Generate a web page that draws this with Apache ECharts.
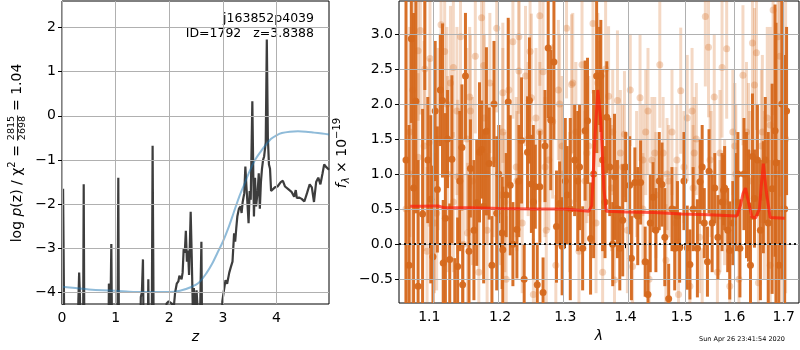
<!DOCTYPE html>
<html><head><meta charset="utf-8">
<script src="https://cdn.jsdelivr.net/npm/echarts@6/dist/echarts.min.js"></script>
<style>html,body{margin:0;padding:0;background:#fff}#c{width:800px;height:350px}</style>
</head><body><div id="c"></div>
<script>
// ---------- left panel: log p(z) ----------
const zBlack = [0.005,0.02,0.035,0.05,0.29,0.305,0.32,0.335,0.35,0.39,0.405,0.42,0.86,0.875,0.89,0.905,0.92,0.94,1.03,1.05,1.065,1.45,1.47,1.49,1.51,1.53,1.59,1.61,1.63,1.67,1.69,1.715,1.93,1.95,1.99,2.02,2.05,2.08,2.11,2.14,2.17,2.19,2.21,2.23,2.25,2.27,2.29,2.31,2.33,2.35,2.37,2.40,2.42,2.44,2.46,2.48,2.51,2.53,2.56,2.58,2.60,2.62,2.98,2.99,3.02,3.05,3.08,3.12,3.15,3.18,3.21,3.23,3.25,3.27,3.30,3.33,3.35,3.37,3.40,3.42,3.44,3.46,3.48,3.50,3.52,3.55,3.57,3.58,3.60,3.62,3.65,3.67,3.69,3.71,3.73,3.75,3.77,3.80,3.82,3.84,3.86,3.88,3.90,3.93,3.97,4.02,4.08,4.12,4.16,4.22,4.28,4.33,4.36,4.38,4.42,4.47,4.52,4.57,4.62,4.66,4.70,4.74,4.78,4.82,4.86,4.89,4.92,4.95,4.98];
const logpBlack = [-6,-1.65,-1.68,-6,-6,-4.2,-3.55,-4.1,-6,-6,-1.55,-6,-6,-3.8,-3.85,-4.3,-2.9,-6,-6,-1.40,-6,-6,-4.1,-4.0,-3.25,-6,-6,-3.7,-6,-6,-0.68,-6,-6,-4.25,-4.2,-4.22,-4.25,-4.4,-4.0,-3.80,-3.75,-3.62,-3.58,-3.70,-3.55,-3.00,-3.10,-2.60,-3.30,-3.05,-3.60,-2.17,-3.20,-4.40,-3.90,-4.50,-3.95,-4.40,-6,-4.2,-2.85,-6,-6,-4.2,-3.95,-3.72,-3.80,-3.55,-3.42,-3.30,-2.66,-2.85,-2.55,-2.28,-2.10,-2.05,-2.20,-1.95,-1.75,-1.15,-1.60,-2.00,-2.43,-1.70,-1.90,0.33,-1.50,-2.28,-1.40,-2.05,-1.70,-1.30,-2.10,-1.50,-1.20,-1.00,-0.92,-0.60,1.73,-0.50,-1.10,-1.20,-1.70,-1.72,-1.62,-1.60,-1.50,-1.47,-1.60,-1.66,-1.72,-1.83,-1.68,-1.86,-1.85,-1.88,-1.94,-1.75,-1.55,-1.62,-1.95,-1.50,-1.40,-1.55,-1.30,-1.10,-1.15,-1.18,-1.22];
const zBlue = [0,0.25,0.5,0.75,1.0,1.25,1.5,1.75,2.0,2.2,2.4,2.55,2.7,2.8,2.9,3.0,3.1,3.2,3.3,3.4,3.5,3.6,3.7,3.8,3.9,4.0,4.1,4.25,4.4,4.55,4.7,4.85,4.98];
const logpBlue = [-3.87,-3.90,-3.93,-3.95,-3.96,-3.98,-3.99,-3.99,-3.99,-3.96,-3.88,-3.78,-3.55,-3.35,-3.10,-2.85,-2.55,-2.20,-1.85,-1.55,-1.25,-1.00,-0.82,-0.66,-0.52,-0.44,-0.39,-0.36,-0.35,-0.36,-0.38,-0.40,-0.42];
const zTicks = [0,1,2,3,4];
const logpTicks = [-4,-3,-2,-1,0,1,2];

// ---------- right panel: spectrum ----------
const lamTicks = [1.1,1.2,1.3,1.4,1.5,1.6,1.7];
const fluxTicks = [-0.5,0,0.5,1,1.5,2,2.5,3];
const darkLam = [1.069,1.073,1.076,1.079,1.082,1.085,1.091,1.094,1.098,1.102,
 1.105,1.108,1.111,1.115,1.118,1.119,1.122,1.125,1.128,1.131,
 1.135,1.139,1.142,1.145,1.146,1.150,1.155,1.157,1.162,1.166,
 1.170,1.173,1.176,1.180,1.184,1.188,1.191,1.195,1.198,1.203,
 1.204,1.209,1.212,1.215,1.219,1.225,1.228,1.232,1.236,1.241,
 1.244,1.247,1.250,1.253,1.256,1.260,1.265,1.268,1.273,1.277,
 1.282,1.286,1.291,1.295,1.300,1.303,1.308,1.315,1.320,1.323,
 1.328,1.332,1.336,1.341,1.346,1.351,1.356,1.358,1.361,1.365,
 1.368,1.373,1.378,1.381,1.386,1.390,1.395,1.400,1.407,1.410,
 1.416,1.421,1.426,1.434,1.439,1.443,1.448,1.453,1.459,1.464,
 1.469,1.476,1.482,1.487,1.492,1.496,1.504,1.510,1.515,1.521,
 1.529,1.534,1.538,1.542,1.548,1.551,1.557,1.562,1.568,1.576,
 1.579,1.581,1.587,1.591,1.597,1.603,1.607,1.611,1.619,1.624,
 1.628,1.632,1.636,1.640,1.646,1.652,1.658,1.662,1.668,1.676,
 1.682,1.684,1.690,1.696,1.702,1.706];
const darkFlux = [1.20,-0.30,2.93,0.80,2.04,-0.60,0.43,3.70,1.20,0.64,
 -0.18,1.90,0.78,2.20,2.05,-0.27,0.37,1.50,-0.22,1.21,
 -1.00,-0.32,0.90,1.38,-0.58,2.40,-0.10,1.08,0.20,0.59,
 1.31,1.35,0.54,1.61,1.15,-0.30,2.00,0.44,1.00,0.16,
 -0.08,0.70,2.03,0.84,0.00,0.21,0.90,1.48,-0.50,1.31,
 2.05,0.86,0.60,0.82,-0.58,0.82,-0.69,1.40,2.80,1.77,
 2.60,0.25,0.58,-0.03,0.90,0.70,0.50,1.20,0.90,1.10,
 -0.06,1.62,1.76,0.08,1.00,2.40,2.40,2.40,1.20,0.60,
 1.81,1.10,0.00,0.96,0.50,-0.06,0.34,1.10,0.84,-0.20,
 0.88,0.40,0.88,-0.25,-0.72,0.30,0.67,0.20,0.90,0.85,
 0.10,-0.78,0.50,-0.06,0.40,-0.05,0.90,-0.05,-0.29,0.50,
 -0.06,0.89,1.10,0.30,-0.25,1.04,0.30,0.80,0.10,0.60,
 0.77,0.80,0.20,-0.09,0.30,0.60,1.00,-0.06,1.00,0.70,
 0.55,-0.30,1.25,0.65,1.20,0.20,0.67,1.20,0.30,0.79,
 1.62,1.16,-0.30,2.00,0.50,1.90];
const darkErr = [2.5,2.0,1.2,2.5,1.6,1.8,1.5,1.5,0.9,1.2,
 1.3,1.0,0.9,0.8,1.1,0.9,1.5,0.7,0.8,1.2,
 0.8,0.7,1.0,0.9,0.6,0.9,1.1,0.7,1.0,0.9,
 1.0,0.7,1.1,1.2,0.8,0.7,0.9,1.1,0.7,0.8,
 0.9,0.6,1.2,1.0,0.6,0.7,0.8,0.9,0.5,0.8,
 0.9,0.7,1.1,0.6,0.6,0.8,0.5,0.8,1.0,1.0,
 1.1,0.8,0.6,0.7,0.9,0.7,1.3,0.8,1.0,0.9,
 0.6,1.0,0.9,0.8,1.2,1.1,0.7,0.8,1.3,0.8,
 0.8,0.7,0.6,0.9,0.7,0.6,0.8,0.5,0.7,0.6,
 0.5,0.7,0.6,0.5,0.5,0.7,0.5,0.6,0.7,0.6,
 0.7,0.5,0.6,0.6,0.5,0.5,0.7,0.6,0.5,0.6,
 0.7,0.6,0.6,0.5,0.5,0.6,0.7,0.5,0.6,0.7,
 0.5,0.6,0.6,0.7,0.6,0.7,0.6,0.7,0.8,0.9,
 0.8,0.7,0.9,0.7,0.8,1.0,0.8,0.9,1.3,1.5,
 1.8,2.0,1.5,2.5,2.2,1.2];
const lightLam = [1.069,1.074,1.078,1.085,1.088,1.093,1.097,1.101,1.107,1.112,
 1.116,1.121,1.125,1.129,1.133,1.138,1.143,1.147,1.152,1.156,
 1.160,1.164,1.169,1.173,1.177,1.181,1.185,1.190,1.195,1.200,
 1.204,1.209,1.213,1.219,1.224,1.228,1.233,1.238,1.242,1.247,
 1.250,1.254,1.260,1.265,1.270,1.274,1.280,1.285,1.289,1.295,
 1.302,1.307,1.312,1.317,1.322,1.327,1.332,1.338,1.345,1.350,
 1.355,1.361,1.366,1.371,1.376,1.381,1.386,1.391,1.398,1.403,
 1.408,1.412,1.419,1.425,1.430,1.435,1.441,1.446,1.453,1.460,
 1.466,1.471,1.476,1.482,1.489,1.494,1.498,1.504,1.510,1.515,
 1.521,1.527,1.533,1.538,1.544,1.550,1.555,1.561,1.567,1.572,
 1.576,1.581,1.585,1.591,1.597,1.603,1.609,1.617,1.624,1.630,
 1.636,1.640,1.644,1.648,1.654,1.660,1.666,1.672,1.678,1.684,
 1.688,1.692,1.698,1.704,
 1.094,1.133,1.176,1.204,1.228,1.245,1.310,1.085,1.100,1.110,
 1.139,1.153,1.181,1.207,1.225,1.268,1.295,1.335,1.378,1.395,
 1.430,1.451,1.473,1.491,1.523,1.553,1.572,1.601,1.628,1.656,
 1.672,1.519,1.439,1.353,1.291,1.260,1.157,1.124,1.075];
const lightFlux = [0.5,1.6,2.2,2.76,3.05,1.4,-0.1,2.65,0.3,1.5,
 3.13,2.75,1.0,2.3,0.6,1.9,2.96,0.0,1.5,2.1,
 0.9,2.68,-0.4,3.23,1.8,0.2,2.3,1.2,3.08,0.7,
 1.6,-0.5,2.2,2.89,1.1,2.96,0.3,2.4,1.5,2.09,
 -0.72,1.8,3.26,2.46,0.2,1.2,1.75,-0.3,2.2,1.0,
 3.08,0.6,2.3,1.6,-0.1,2.56,0.9,1.4,3.15,0.3,
 2.0,-0.4,2.5,2.11,0.8,-0.51,2.05,1.3,1.57,0.2,
 2.2,-0.32,1.0,2.09,0.5,1.6,-0.5,1.2,0.7,2.56,
 1.3,-0.23,0.9,1.6,0.3,-0.72,2.19,1.1,1.80,-0.6,
 0.8,1.5,0.1,-0.86,3.25,2.81,1.0,2.1,-0.4,1.3,
 2.52,0.6,2.79,-0.6,1.6,1.0,-0.5,2.41,1.6,0.9,
 2.87,2.27,2.73,-0.55,1.4,0.7,1.8,-0.3,3.34,1.0,
 2.96,2.68,0.5,1.5,
 2.5,2.52,2.55,2.16,2.47,2.75,2.28,1.24,1.45,0.44,
 0.96,0.16,1.0,0.6,0.9,1.1,1.4,1.3,1.6,1.1,
 1.2,1.3,1.0,1.2,1.3,1.2,0.4,1.4,1.3,1.6,
 1.7,1.9,1.9,2.3,2.0,1.6,1.9,2.0,1.0];
const lightErr = [2.5,1.5,1.4,1.0,1.2,1.5,1.2,1.1,1.0,1.3,
 1.2,1.2,1.4,1.1,1.0,1.2,1.1,1.0,1.3,1.0,
 1.2,1.1,1.0,1.3,1.2,1.1,1.0,1.1,1.2,1.0,
 1.2,0.9,1.0,1.1,1.0,1.1,1.0,1.0,1.1,1.2,
 0.8,1.0,1.0,1.0,1.2,1.0,1.1,1.0,1.0,1.0,
 1.0,1.0,1.0,1.0,0.9,1.0,1.0,1.0,1.0,1.0,
 0.9,0.9,1.0,1.0,0.9,0.9,1.0,0.9,0.9,0.9,
 0.8,0.8,0.9,0.9,0.8,0.9,0.8,0.9,0.9,0.9,
 0.8,0.8,0.8,0.9,0.8,0.8,0.9,0.8,0.9,0.8,
 0.9,0.8,0.8,0.8,1.0,1.0,0.9,0.9,0.8,0.9,
 1.0,0.9,1.0,0.8,0.9,1.0,0.9,1.0,1.0,1.0,
 1.1,1.1,1.1,1.0,1.1,1.2,1.3,1.5,1.5,2.0,
 1.8,2.0,2.5,2.2,
 1.0,1.0,1.0,1.0,1.0,1.0,1.0,1.2,1.2,1.1,
 1.1,1.0,1.0,1.0,1.0,1.0,1.0,1.0,0.9,0.9,
 0.8,0.8,0.8,0.8,0.8,0.8,0.8,0.9,1.0,1.1,
 1.4,0.9,0.9,1.0,1.0,1.0,1.1,1.1,2.0];
const modelLam = [1.0745,1.090,1.105,1.112,1.120,1.160,1.200,1.250,1.300,1.338,1.343,1.348,1.353,1.358,1.363,1.367,1.400,1.450,1.500,1.550,1.605,1.612,1.617,1.622,1.628,1.635,1.642,1.650,1.654,1.658,1.664,1.672,1.702];
const modelFlux = [0.54,0.54,0.545,0.545,0.52,0.52,0.51,0.50,0.50,0.47,0.55,1.50,2.20,1.75,0.80,0.47,0.46,0.45,0.43,0.42,0.40,0.55,0.72,0.80,0.60,0.39,0.37,0.50,0.85,1.15,0.75,0.38,0.37];

// ---------- build ----------
const FONT = 'DejaVu Sans';
const ORANGE = '#d5681c';
const zip2 = (a, b) => a.map((v, i) => [v, b[i]]);
const lamData = (l, f, e) => l.map((v, i) => [Math.log(v), f[i], e[i]]);
const minus = v => String(v).replace('-', '\u2212');

function errBars(color, opacity) {
  return function (params, api) {
    const x = api.value(0), y = api.value(1), e = api.value(2);
    const p1 = api.coord([x, y - e]);
    const p2 = api.coord([x, y + e]);
    return { type: 'line', shape: { x1: p1[0], y1: p1[1], x2: p2[0], y2: p2[1] },
      style: { stroke: color, lineWidth: 3, opacity: opacity } };
  };
}
function gridLines(xIdx, xVals, yVals) {
  return { type: 'line', xAxisIndex: xIdx, yAxisIndex: xIdx, data: [], z: 1, silent: true,
    markLine: { silent: true, symbol: ['none', 'none'], label: { show: false }, animation: false,
      lineStyle: { color: '#b0b0b0', width: 1, type: 'solid', opacity: 1 },
      emphasis: { disabled: true },
      data: xVals.map(v => ({ xAxis: v })).concat(yVals.map(v => ({ yAxis: v }))) } };
}

const axisLabelBase = { color: '#000', fontSize: 14, fontFamily: FONT, margin: 6 };
const tickBase = { show: true, length: 4, lineStyle: { color: '#000', width: 1 } };

// axis titles built from text pieces (fraction / sub / superscripts)
const mctx = document.createElement('canvas').getContext('2d');
function tw(t, size, ital) { mctx.font = (ital ? 'italic ' : '') + size + 'px "' + FONT + '"'; return mctx.measureText(t).width; }
function txt(t, x, y, size, ital) {
  return { type: 'text', x: x, y: y, style: { text: t, fill: '#000', fontSize: size, fontFamily: FONT,
    fontStyle: ital ? 'italic' : 'normal', align: 'left', verticalAlign: 'middle' } };
}
function buildLeftLabel() {
  const parts = [];
  const pieces = [['log ', 14, false, 0], ['p', 14, true, 0], ['(z) / \u03c7', 14, false, 0], ['2', 10, false, -5], [' = ', 14, false, 0]];
  let total = 0;
  pieces.forEach(p => total += tw(p[0], p[1], p[2]));
  const fw = Math.max(tw('2815', 9.5), tw('2698', 9.5)) + 1;
  total += fw + tw(' = 1.04', 14);
  let x = -total / 2;
  pieces.forEach(p => { parts.push(txt(p[0], x, p[3], p[1], p[2])); x += tw(p[0], p[1], p[2]); });
  parts.push(txt('2815', x + 0.5, -5.5, 9.5, false));
  parts.push(txt('2698', x + 0.5, 6, 9.5, false));
  parts.push({ type: 'line', shape: { x1: x, y1: 0.5, x2: x + fw, y2: 0.5 }, style: { stroke: '#000', lineWidth: 0.8 } });
  x += fw;
  parts.push(txt(' = 1.04', x, 0, 14, false));
  return { type: 'group', x: 17, y: 153, rotation: Math.PI / 2, children: parts };
}
function buildRightLabel() {
  const pieces = [['f', 14, true, 0], ['\u03bb', 10, true, 4], [' \u00d7 10', 14, false, 0], ['\u221219', 10, false, -5]];
  let total = 0;
  pieces.forEach(p => total += tw(p[0], p[1], p[2]));
  let x = -total / 2;
  const parts = [];
  pieces.forEach(p => { parts.push(txt(p[0], x, p[3], p[1], p[2])); x += tw(p[0], p[1], p[2]); });
  return { type: 'group', x: 342, y: 153, rotation: Math.PI / 2, children: parts };
}

const chart = echarts.init(document.getElementById('c'), null, { renderer: 'canvas' });
chart.setOption({
  animation: false,
  backgroundColor: '#fff',
  grid: [
    { left: 62, top: 1, width: 267, height: 303, show: true, borderColor: '#000', borderWidth: 1, backgroundColor: 'transparent' },
    { left: 399, top: 1, width: 400, height: 302, show: true, borderColor: '#000', borderWidth: 1, backgroundColor: 'transparent' }
  ],
  xAxis: [
    { gridIndex: 0, type: 'value', min: 0, max: 4.98,
      axisLine: { show: false },
      axisTick: Object.assign({}, tickBase, { customValues: zTicks }),
      axisLabel: Object.assign({}, axisLabelBase, { customValues: zTicks, margin: 7 }),
      splitLine: { show: false },
      name: 'z', nameLocation: 'middle', nameGap: 26,
      nameTextStyle: { fontStyle: 'italic', fontSize: 14, fontFamily: FONT, color: '#000' } },
    { gridIndex: 1, type: 'value', min: 0.05813, max: 0.54941,
      axisLine: { show: false },
      axisTick: Object.assign({}, tickBase, { customValues: lamTicks.map(Math.log) }),
      axisLabel: Object.assign({}, axisLabelBase, { customValues: lamTicks.map(Math.log), margin: 7,
        formatter: v => Math.exp(v).toFixed(1) }),
      splitLine: { show: false },
      name: '\u03bb', nameLocation: 'middle', nameGap: 26,
      nameTextStyle: { fontStyle: 'italic', fontSize: 14, fontFamily: FONT, color: '#000' } }
  ],
  yAxis: [
    { gridIndex: 0, type: 'value', min: -4.26, max: 2.60,
      axisLine: { show: false },
      axisTick: Object.assign({}, tickBase, { customValues: logpTicks }),
      axisLabel: Object.assign({}, axisLabelBase, { customValues: logpTicks, formatter: v => minus(v) }),
      splitLine: { show: false } },
    { gridIndex: 1, type: 'value', min: -0.84, max: 3.47,
      axisLine: { show: false },
      axisTick: Object.assign({}, tickBase, { customValues: fluxTicks }),
      axisLabel: Object.assign({}, axisLabelBase, { customValues: fluxTicks, formatter: v => minus(Number(v).toFixed(1)) }),
      splitLine: { show: false } }
  ],
  graphic: [
    buildLeftLabel(),
    buildRightLabel(),
    { type: 'text', x: 314, y: 19, style: { text: 'j163852p4039', fill: '#000', fontSize: 12.5, fontFamily: FONT, align: 'right', verticalAlign: 'middle' } },
    { type: 'text', x: 314, y: 34, style: { text: 'ID=1792   z=3.8388', fill: '#000', fontSize: 12.5, fontFamily: FONT, align: 'right', verticalAlign: 'middle' } },
    { type: 'text', x: 742, y: 339, style: { text: 'Sun Apr 26 23:41:54 2020', fill: '#000', fontSize: 6.5, fontFamily: FONT, align: 'center', verticalAlign: 'middle' } }
  ],
  series: [
    gridLines(0, zTicks, logpTicks),
    gridLines(1, lamTicks.map(Math.log), fluxTicks),
    { type: 'line', xAxisIndex: 0, yAxisIndex: 0, data: zip2(zBlack, logpBlack), showSymbol: false, symbol: 'none',
      clip: true, lineStyle: { color: '#333333', width: 2.2, opacity: 0.95 }, z: 3 },
    { type: 'line', xAxisIndex: 0, yAxisIndex: 0, data: zip2(zBlue, logpBlue), showSymbol: false, symbol: 'none', smooth: 0.3,
      clip: true, lineStyle: { color: '#1f77b4', width: 2, opacity: 0.5 }, z: 4 },
    { type: 'custom', xAxisIndex: 1, yAxisIndex: 1, data: lamData(lightLam, lightFlux, lightErr),
      renderItem: errBars(ORANGE, 0.26), clip: true, z: 2 },
    { type: 'scatter', xAxisIndex: 1, yAxisIndex: 1, data: lamData(lightLam, lightFlux, lightErr),
      symbol: 'circle', symbolSize: 7, itemStyle: { color: ORANGE, opacity: 0.28 }, clip: true, z: 2 },
    { type: 'custom', xAxisIndex: 1, yAxisIndex: 1, data: lamData(darkLam, darkFlux, darkErr),
      renderItem: errBars(ORANGE, 0.95), clip: true, z: 3 },
    { type: 'scatter', xAxisIndex: 1, yAxisIndex: 1, data: lamData(darkLam, darkFlux, darkErr),
      symbol: 'circle', symbolSize: 7, itemStyle: { color: ORANGE, opacity: 0.95 }, clip: true, z: 3 },
    { type: 'line', xAxisIndex: 1, yAxisIndex: 1, data: zip2(modelLam.map(Math.log), modelFlux), showSymbol: false, symbol: 'none',
      clip: true, lineStyle: { color: '#ff1a0a', width: 3, opacity: 0.7 }, z: 5,
      markLine: { silent: true, symbol: ['none', 'none'], label: { show: false },
        lineStyle: { type: [2, 3], color: '#000', width: 2, opacity: 0.9 },
        data: [{ yAxis: 0 }] } }
  ]
});
</script>
</body></html>
